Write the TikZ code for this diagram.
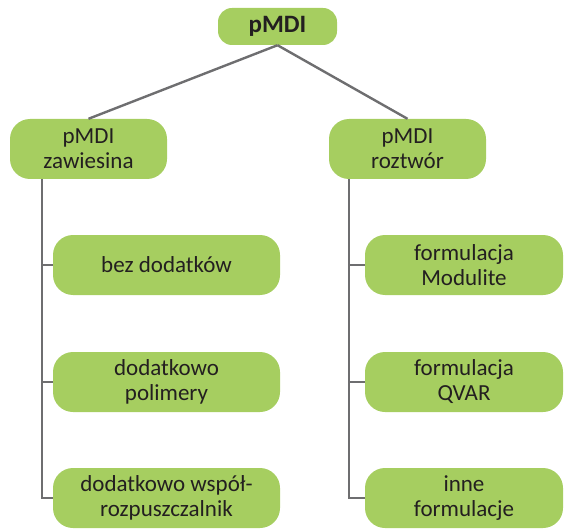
\documentclass[tikz,border=0pt]{standalone}
\usepackage{fontspec}
\setmainfont{Carlito}
\definecolor{boxgreen}{RGB}{166,206,96}
\definecolor{linegray}{RGB}{110,110,112}
\definecolor{txt}{RGB}{35,31,32}
\begin{document}
\begin{tikzpicture}[x=1pt,y=-1pt,
  box/.style={fill=boxgreen,rounded corners=20pt,inner sep=0pt,align=center,text=txt,font=\fontsize{23}{25}\selectfont},
  conn/.style={draw=linegray,line width=2.4pt}]
\useasboundingbox (0,0) rectangle (564,529);
\node[box,minimum width=119pt,minimum height=37pt,rounded corners=14pt,font=\fontsize{25}{28}\selectfont\bfseries] (top) at (277.5,26.5) {pMDI};
\node[box,minimum width=157pt,minimum height=60pt] (l) at (88.5,149) {pMDI\\zawiesina};
\node[box,minimum width=157pt,minimum height=60pt] (r) at (407.5,149) {pMDI\\roztwór};
\node[box,minimum width=227pt,minimum height=60pt] (l1) at (166.5,265) {bez dodatków};
\node[box,minimum width=227pt,minimum height=60pt] (l2) at (166.5,382) {dodatkowo\\polimery};
\node[box,minimum width=227pt,minimum height=60pt] (l3) at (166.5,498) {dodatkowo współ-\\rozpuszczalnik};
\node[box,minimum width=198pt,minimum height=60pt] (r1) at (464,265) {formulacja\\Modulite};
\node[box,minimum width=198pt,minimum height=60pt] (r2) at (464,382) {formulacja\\QVAR};
\node[box,minimum width=198pt,minimum height=60pt] (r3) at (464,498) {inne\\formulacje};
\coordinate (lx) at (42,0);
\coordinate (rx) at (349,0);
\draw[conn] (top.south) -- (l.north);
\draw[conn] (top.south) -- (r.north);
\draw[conn] (l.south -| lx) |- (l3.west);
\draw[conn] (l1.west -| lx) -- (l1.west);
\draw[conn] (l2.west -| lx) -- (l2.west);
\draw[conn] (r.south -| rx) |- (r3.west);
\draw[conn] (r1.west -| rx) -- (r1.west);
\draw[conn] (r2.west -| rx) -- (r2.west);
\end{tikzpicture}
\end{document}
